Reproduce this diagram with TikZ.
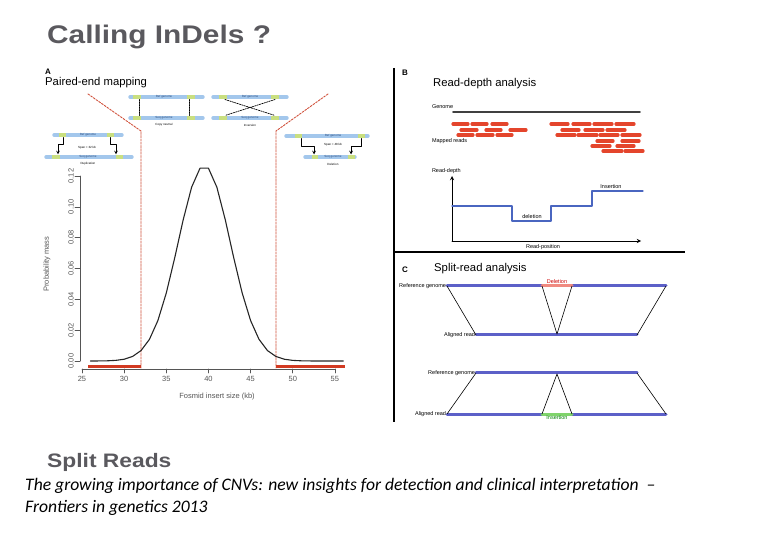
\documentclass[tikz,border=0pt]{standalone}
\usepackage{fontspec}
\usetikzlibrary{calc}
\setmainfont{Liberation Sans}
\newfontfamily\headfont[FakeStretch=1.17]{Liberation Sans}
\newfontfamily\citefont{Carlito}
\definecolor{titlegray}{HTML}{5A595E}
\definecolor{axisgray}{HTML}{555555}
\definecolor{plotred}{HTML}{D23A22}
\definecolor{dashred}{HTML}{D0503A}
\definecolor{barblue}{HTML}{A3C7EC}
\definecolor{bartext}{HTML}{2B4C7E}
\definecolor{endgreen}{HTML}{C9DF80}
\definecolor{readred}{HTML}{E4452C}
\definecolor{stepblue}{HTML}{4A66C0}
\definecolor{srblue}{HTML}{5C60C8}
\definecolor{delpink}{HTML}{F08A80}
\definecolor{insgreen}{HTML}{7FD36B}
\tikzset{
	refbar/.style={line width=3.4pt, color=barblue},
	endseg/.style={line width=3.4pt, color=endgreen, line cap=butt},
	tinylbl/.style={font=\fontsize{3}{3}\selectfont, inner sep=0, text=bartext},
	smalllbl/.style={font=\fontsize{5.5}{6}\selectfont, inner sep=0.8pt},
	plotlbl/.style={font=\fontsize{7.5}{8}\selectfont, inner sep=1pt, text=axisgray},
	panellbl/.style={font=\fontsize{11.3}{12}\selectfont, anchor=base west, inner sep=0},
	read/.style={line width=3.2pt, color=readred},
	srbar/.style={line width=3pt, color=srblue},
}
\begin{document}
\begin{tikzpicture}[x=1pt,y=-1pt,>=stealth, line join=round, line cap=round]
	\useasboundingbox (0,0) rectangle (780,540);
	\def\xa{82} \def\xk{8.43} % x = 25 kb, px per kb
	\def\ya{361} \def\yk{1541.7} % y = 0, px per unit
	% titles
	\node[anchor=base west, inner sep=0, text=titlegray, font=\headfont\bfseries\fontsize{25.5}{28}\selectfont] (title) at (47,43.3) {Calling InDels ?};
	\node[anchor=base west, inner sep=0, text=titlegray, font=\headfont\bfseries\fontsize{19.5}{22}\selectfont] (split) at (47,467) {Split Reads};
	\node[anchor=base west, inner sep=0, font=\citefont\itshape\fontsize{17.6}{20}\selectfont] (citeone) at (25,490) {The growing importance of CNVs: new insights for detection and clinical interpretation ~–};
	\node[anchor=base west, inner sep=0, font=\citefont\itshape\fontsize{17.6}{20}\selectfont] (citetwo) at (25,512) {Frontiers in genetics 2013};
	
	% panel A
	\node[anchor=center, inner sep=0, font=\fontsize{8}{8}\selectfont\bfseries] (pa) at (48,72) {A};
	\node[panellbl] (pahead) at (45,85.5) {Paired-end mapping};
	\draw[dashred, dashed, line width=0.9, dash pattern=on 2pt off 1.3pt] (88,94) -- (141,131) -- (141,368);
	\draw[dashred, dashed, line width=0.9, dash pattern=on 2pt off 1.3pt] (328,94) -- (276,131) -- (276,368);
	% copy neutral
	\draw[refbar] (130,97) -- (203,97);
	\draw[refbar] (130,118) -- (203,118);
	\draw[endseg] (133,97) -- (141,97) (187,97) -- (195,97) (133,118) -- (141,118) (187,118) -- (195,118);
	\node[tinylbl] (cnref) at (164,97) {Ref genome};
	\node[tinylbl] (cnseq) at (164,118) {Seq genome};
	\draw[dashed, dash pattern=on 1.5pt off 1pt, line width=0.7] (139,99.5) -- (139,115.5) (189,99.5) -- (189,115.5);
	\node[tinylbl, text=black] (cn) at (164,125) {Copy neutral};
	% inversion
	\draw[refbar] (213,97) -- (287,97);
	\draw[refbar] (213,118) -- (287,118);
	\draw[endseg] (219,97) -- (227,97) (271,97) -- (279,97) (219,118) -- (227,118) (271,118) -- (279,118);
	\node[tinylbl] (invref) at (250,97) {Ref genome};
	\node[tinylbl] (invseq) at (250,118) {Seq genome};
	\draw[dashed, dash pattern=on 1.5pt off 1pt, line width=0.7] (225,99.5) -- (275,115.5) (275,99.5) -- (225,115.5);
	\node[tinylbl, text=black] (inv) at (250,125) {Inversion};
	% duplication
	\draw[refbar] (54,135) -- (122,135);
	\draw[refbar] (46,157) -- (132,157);
	\draw[endseg] (59,135) -- (66,135) (107,135) -- (114,135) (52,157) -- (60,157) (116,157) -- (123,157);
	\node[tinylbl] (dupref) at (88,135) {Ref genome};
	\node[tinylbl] (dupseq) at (88,157) {Seq genome};
	\draw[->, line width=0.7] (63,137.5) -- (63,144) -- (58,144) -- (58,154.5);
	\draw[->, line width=0.7] (110,137.5) -- (110,144) -- (116,144) -- (116,154.5);
	\node[tinylbl, text=black] (dupspan) at (87,148) {Span = 32 kb};
	\node[tinylbl, text=black] (dup) at (88,164) {Duplication};
	% deletion
	\draw[refbar] (286,136) -- (368,136);
	\draw[refbar] (305,157) -- (355,157);
	\draw[endseg] (295,136) -- (302,136) (358,136) -- (365,136) (312,157) -- (318,157) (348,157) -- (355,157);
	\node[tinylbl] (delref) at (333,136) {Ref genome};
	\node[tinylbl] (delseq) at (333,157) {Seq genome};
	\draw[->, line width=0.7] (301,138.5) -- (301,146) -- (314,146) -- (314,154.5);
	\draw[->, line width=0.7] (361,138.5) -- (361,146) -- (351,146) -- (351,154.5);
	\node[tinylbl, text=black] (delspan) at (333,145) {Span = 48 kb};
	\node[tinylbl, text=black] (del) at (333,164) {Deletion};
	% plot
	\draw[axisgray, line width=0.6] (80,{\ya-0.12*\yk}) -- (80,\ya);
	\foreach \p/\t in {0/0.00,0.02/0.02,0.04/0.04,0.06/0.06,0.08/0.08,0.10/0.10,0.12/0.12}
		\draw[axisgray, line width=0.6] (80,{\ya-\p*\yk}) -- ++(-5,0) node[plotlbl, rotate=90, anchor=south] {\t};
	\draw[axisgray, line width=0.6] (\xa,369) -- ({\xa+30*\xk},369);
	\foreach \k in {25,30,...,55}
		\draw[axisgray, line width=0.6] ({\xa+(\k-25)*\xk},369) -- ++(0,4) node[plotlbl, anchor=north, yshift=-2pt] {\k};
	\node[plotlbl] (xlab) at (217,397) {Fosmid insert size (kb)};
	\node[plotlbl, rotate=90] (ylab) at (47,264) {Probability mass};
	\draw[plotred, line width=3.5pt, line cap=butt] (88,366.5) -- (141,366.5) (276,366.5) -- (345,366.5);
	\draw[black!85, line width=1.1] plot[domain=26:56, samples=31] ({\xa+(\x-25)*\xk},{\ya-195.3*exp(-((\x-39.5)^2)/19.2)});
	
	% separators
	\draw[line width=1.6pt, line cap=butt] (394,68) -- (394,422);
	\draw[line width=1.6pt, line cap=butt] (394,252) -- (685,252);
	
	% panel B
	\node[anchor=center, inner sep=0, font=\fontsize{8}{8}\selectfont\bfseries] (pb) at (405,73) {B};
	\node[panellbl] (pbhead) at (433,87) {Read-depth analysis};
	\node[smalllbl, anchor=west] (genome) at (431,107) {Genome};
	\draw[black!75, line width=1.8pt] (453,112) -- (640,112);
	\foreach \a/\b/\y in {453/468/124,472/487/124,492/507/124,461/477/130,486/501/130,510/526/130,458/473/135,477/493/135,497/512/135,
		551/568/124,573/590/124,594/612/124,616/634/124,562/579/130,585/603/130,607/625/130,
		557/575/135,578/597/135,600/618/135,622/640/135,597/613/141,622/639/141,592/610/146,617/634/146,603/622/151,625/643/151}
		\draw[read] (\a,\y) -- (\b,\y);
	\node[smalllbl, anchor=west] (mapped) at (431,141) {Mapped reads};
	\node[smalllbl, anchor=west] (rdepth) at (431,171) {Read-depth};
	\draw[->, line width=0.9] (452,241) -- (452,176);
	\draw[->, line width=0.9] (452,241) -- (641,241);
	\node[smalllbl] (rpos) at (543,247) {Read-position};
	\draw[stepblue, line width=1.2] (452,206) -| (512,221) -| (551,206) -| (592,191) -- (643,191);
	\node[smalllbl] (rdel) at (532,217) {deletion};
	\node[smalllbl] (rins) at (611,187) {Insertion};
	
	% panel C
	\node[anchor=center, inner sep=0, font=\fontsize{8}{8}\selectfont\bfseries] (pc) at (405,270) {C};
	\node[panellbl] (pchead) at (434,272) {Split-read analysis};
	\coordinate (refa) at (447,286); \coordinate (refb) at (666,286);
	\coordinate (dela) at (542,286); \coordinate (delb) at (572,286);
	\coordinate (ala) at (476,335); \coordinate (alb) at (637,335); \coordinate (alm) at (557,334);
	\draw[srbar] (refa) -- (refb);
	\draw[delpink, line width=3pt] (dela) -- (delb);
	\draw[srbar] (ala) -- (alb);
	\draw[line width=0.6] (refa) -- (ala) (refb) -- (alb) (dela) -- (alm) -- (delb);
	\node[smalllbl, anchor=east] (refone) at (refa) {Reference genome};
	\node[smalllbl, anchor=east] (alone) at (ala) {Aligned read};
	\node[smalllbl, anchor=south, text=red!80!black] (cdel) at ([yshift=1pt]$(dela)!0.5!(delb)$) {Deletion};
	\coordinate (rfa) at (476,373); \coordinate (rfb) at (637,373); \coordinate (rfm) at (557,374);
	\coordinate (aga) at (447,414); \coordinate (agb) at (666,414);
	\coordinate (insa) at (542,414); \coordinate (insb) at (572,414);
	\draw[srbar] (rfa) -- (rfb);
	\draw[srbar] (aga) -- (agb);
	\draw[insgreen, line width=3pt] (insa) -- (insb);
	\draw[line width=0.6] (rfa) -- (aga) (rfb) -- (agb) (insa) -- (rfm) -- (insb);
	\node[smalllbl, anchor=east] (reftwo) at (rfa) {Reference genome};
	\node[smalllbl, anchor=east] (altwo) at (aga) {Aligned read};
	\node[smalllbl, anchor=north, text=green!50!black] (cins) at ([yshift=-1pt]$(insa)!0.5!(insb)$) {Insertion};
\end{tikzpicture}
\end{document}
